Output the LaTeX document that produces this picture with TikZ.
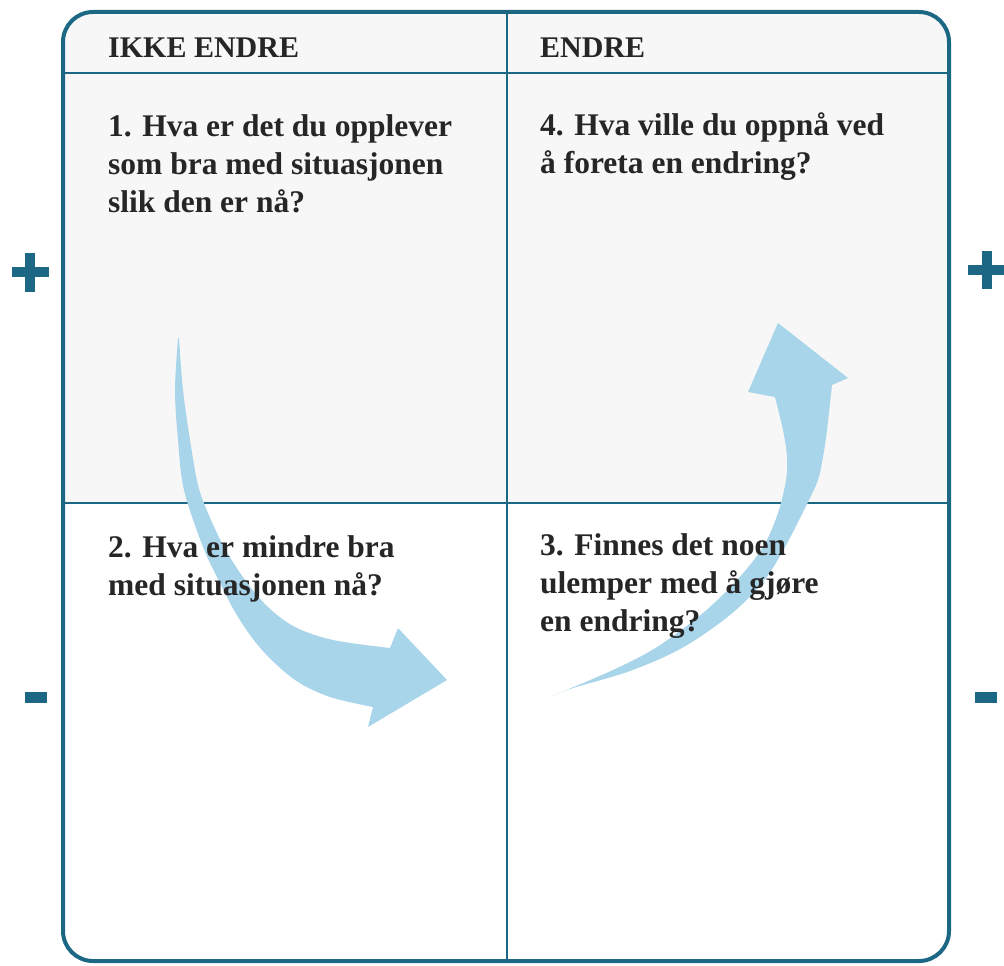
\documentclass[tikz,border=0pt]{standalone}
\usepackage{fontspec}
\setmainfont{Liberation Serif}
\usepackage{xcolor}
\definecolor{framec}{RGB}{28,103,132}
\definecolor{arrowc}{RGB}{168,213,234}
\definecolor{textc}{RGB}{38,38,38}
\definecolor{topbg}{RGB}{247,247,247}
\tikzset{
  framestyle/.style={draw=framec, line width=4pt, rounded corners=30pt},
  divider/.style={draw=framec, line width=2pt},
  headtext/.style={anchor=base west, inner sep=0pt, text=textc, font=\fontsize{30}{36}\selectfont\bfseries},
  qtext/.style={anchor=base west, inner sep=0pt, text=textc, font=\fontsize{31.5}{38}\selectfont\bfseries},
  signc/.style={fill=framec},
  bluearrow/.style={fill=arrowc}
}
\begin{document}
\begin{tikzpicture}[x=1pt,y=-1pt]
\useasboundingbox (0,0) rectangle (1004,966);
% background of the upper half
\begin{scope}
  \clip[rounded corners=30pt] (63,12) rectangle (949,961);
  \fill[topbg] (63,12) rectangle (949,503);
\end{scope}
% grid lines
\coordinate (tl) at (63,12);
\coordinate (br) at (949,961);
\coordinate (hl) at (63,73);
\coordinate (hr) at (949,73);
\coordinate (ml) at (63,503);
\coordinate (mr) at (949,503);
\coordinate (vt) at (507,12);
\coordinate (vb) at (507,961);
\draw[divider] (hl) -- (hr);
\draw[divider] (ml) -- (mr);
\draw[divider] (vt) -- (vb);
% arrow 1 (down and right)
\fill[bluearrow] plot[smooth, tension=0.55] coordinates {(178,338) (175,390) (178,440) (184,490) (203,547) (220,583) (238,617) (262,650) (295,680) (330,697) (373,707)}
  -- (368,727) -- (447,680) -- (398,628) -- (390,648)
  -- plot[smooth, tension=0.55] coordinates {(390,648) (333,640) (295,627) (268,607) (245,580) (224,547) (208,513) (198,485) (190,440) (183,390) (179,338)} -- cycle;
% arrow 2 (up)
\fill[bluearrow] plot[smooth, tension=0.55] coordinates {(552,696) (613,670) (657,647) (703,613) (737,580) (763,547) (778,513) (786,480) (787,457) (783,430) (775,397)}
  -- (748,392) -- (778,323) -- (848,378) -- (832,385)
  -- plot[smooth, tension=0.55] coordinates {(832,385) (827,430) (823,457) (818,480) (807,504) (785,547) (763,582) (730,615) (682,648) (630,671) (573,688) (552,696)} -- cycle;
% outer frame
\draw[framestyle] (tl) rectangle (br);
% signs
\fill[signc] (12,267) rectangle (49,277);
\fill[signc] (25,253) rectangle (35,292);
\fill[signc] (968,265) rectangle (1006,275);
\fill[signc] (982,251) rectangle (992,289);
\fill[signc] (25,692) rectangle (47,703);
\fill[signc] (975,692) rectangle (997,703);
% headers
\node[headtext] (h1) at (108,58) {IKKE ENDRE};
\node[headtext] (h2) at (540,58) {ENDRE};
% question 1
\node[qtext] (q1a) at (108,136) {1. Hva er det du opplever};
\node[qtext] (q1b) at (108,174) {som bra med situasjonen};
\node[qtext] (q1c) at (108,212) {slik den er nå?};
% question 4
\node[qtext] (q4a) at (540,135) {4. Hva ville du oppnå ved};
\node[qtext] (q4b) at (540,173) {å foreta en endring?};
% question 2
\node[qtext] (q2a) at (108,557) {2. Hva er mindre bra};
\node[qtext] (q2b) at (108,595) {med situasjonen nå?};
% question 3
\node[qtext] (q3a) at (540,555) {3. Finnes det noen};
\node[qtext] (q3b) at (540,593) {ulemper med å gjøre};
\node[qtext] (q3c) at (540,631) {en endring?};
\end{tikzpicture}
\end{document}
